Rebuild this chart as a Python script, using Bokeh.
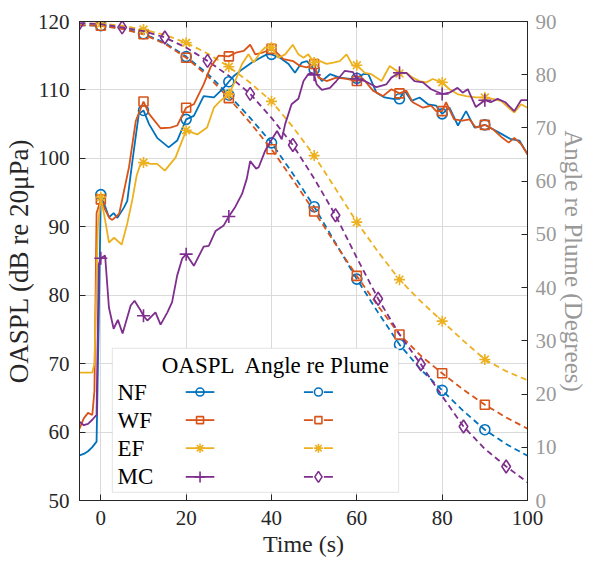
from bokeh.plotting import figure
from bokeh.models import Range1d, LinearAxis, FixedTicker, Label, BoxAnnotation
from bokeh.embed import file_html
from bokeh.resources import INLINE

# ---------------- data ----------------
series_names = ["NF", "WF", "EF", "MC"]

t_nf = [-5, -4, -3, -2, -1, -0.5, 0, 1, 1.9, 3, 3.9, 5.4, 6.2, 7.4, 8.9, 10, 11.3, 13.2, 15.9, 17.9,
        20, 21.8, 24.1, 26.5, 28.8, 30, 31.1, 33.1, 35.4, 37.4, 38.9, 40, 42, 44, 45.5, 47.1, 48.3, 50,
        51.8, 53.7, 56, 58.4, 60, 61.5, 62.7, 64.6, 66.5, 68.5, 70, 71.2, 72.8, 74.7, 76.7, 78.6,
        80, 81.7, 83.7, 85.6, 87.6, 90, 91.8, 94.1, 96.1, 98.1, 100]
oaspl_nf = [56.6, 56.8, 57.2, 57.8, 58.6, 76.0, 94.7, 93.0, 91.4, 92.0, 91.3, 92.8, 93.8, 99.6, 106.5, 107.0,
            105.0, 103.0, 101.6, 102.6, 105.7, 106.2, 109.1, 108.9, 110.3, 111.2, 112.0, 113.0, 114.0,
            114.7, 115.2, 115.2, 114.7, 113.8, 112.5, 114.0, 114.2, 113.0, 111.3, 112.3, 111.8, 111.6,
            111.7, 112.3, 112.3, 109.6, 108.9, 108.7, 108.7, 109.9, 108.4, 108.9, 107.9, 107.7, 106.5,
            107.4, 104.8, 106.9, 104.5, 104.9, 104.3, 103.5, 102.8, 102.6, 100.6]

t_wf = [-5, -4, -3, -2, -1.5, -1, 0, 1, 2, 2.7, 4.3, 6.6, 8.2, 10, 11.3, 14, 16.3, 17.9, 20, 21.8,
        24.1, 25.7, 27.6, 30, 31.9, 33.5, 35, 36.2, 38.1, 40, 40.8, 42.8, 45.1, 46.7, 48.3, 50, 51,
        52.9, 55.2, 57.6, 60, 61.5, 63.8, 66.1, 68.1, 70, 71.6, 73.1, 75.5, 77.4, 78.6, 80, 80.9,
        82.8, 84.8, 86.4, 87.9, 90, 91.8, 94.1, 95.6, 96.9, 98.5, 100]
oaspl_wf = [60.5, 62.0, 62.8, 62.5, 66.0, 92.0, 94.0, 92.5, 91.3, 91.0, 91.9, 98.7, 105.5, 108.3, 106.5,
            104.4, 104.5, 104.8, 107.4, 107.9, 110.8, 113.3, 115.0, 114.9, 115.5, 115.7, 116.6, 115.2,
            115.5, 116.0, 115.7, 114.5, 114.2, 113.5, 113.3, 113.8, 111.8, 111.3, 111.8, 111.6, 111.3,
            111.6, 109.9, 109.1, 110.1, 109.5, 109.9, 108.2, 107.4, 107.7, 106.9, 106.9, 108.2, 105.7,
            105.5, 105.7, 104.5, 104.9, 104.3, 103.0, 102.3, 103.0, 102.1, 100.6]

t_ef = [-5, -4, -3, -2, -1.5, -0.7, 0, 1, 1.9, 3.1, 4.9, 6.2, 7.4, 8.4, 9.3, 10, 11.7, 13.2, 15, 17.5,
        20, 22.6, 24.9, 26.5, 28, 30, 31.5, 33.1, 34.6, 35.8, 37.4, 38.5, 40, 41.6, 43.2, 45, 46.3,
        47.5, 48.6, 50, 51.4, 52.9, 54.5, 56, 57.6, 59.1, 60, 61.9, 63.4, 65.8, 67.7, 69.3, 70, 71.6,
        73.1, 74.7, 76.3, 77.8, 80, 81.7, 83.6, 85.6, 87.9, 90, 91.8, 93.8, 95.6, 96.9, 98.5, 100]
oaspl_ef = [68.7, 68.7, 68.7, 68.7, 70.0, 90.0, 94.3, 91.0, 87.7, 88.4, 87.4, 90.5, 94.0, 97.5, 99.2, 99.4,
            99.2, 99.2, 98.2, 100.1, 104.1, 103.5, 104.5, 107.4, 108.4, 109.4, 111.3, 113.8, 115.2,
            114.0, 115.5, 116.2, 116.2, 114.7, 115.2, 116.6, 115.2, 114.7, 115.2, 114.0, 114.2, 113.8,
            114.0, 114.2, 115.2, 113.5, 113.6, 112.5, 112.3, 111.3, 113.5, 112.8, 112.4, 112.5, 111.8,
            111.3, 111.1, 111.6, 111.1, 110.1, 109.4, 109.1, 108.9, 108.9, 108.7, 108.4, 107.4, 106.7,
            107.9, 107.4]

t_mc = [-5, -4, -3, -2, -1, -0.5, 0, 1, 1.9, 3, 4, 5.1, 7, 7.9, 9.3, 10, 10.9, 12.8, 14, 15.6, 16.7,
        17.9, 19.1, 20, 21.8, 24.1, 25.3, 26.9, 28.8, 30, 31.5, 33.1, 34.2, 35, 36.4, 37, 38.5, 39.9,
        41.3, 42.4, 43.2, 44.7, 46.3, 47.5, 48.6, 49.4, 50, 50.6, 51.8, 53.7, 55.2, 57.2, 59.1, 60,
        61.9, 64.6, 66.9, 68.1, 70, 71.6, 73.5, 75.5, 77.4, 80, 81.7, 83.6, 84.8, 86, 87.9, 90, 91.4,
        93, 94.8, 96.9, 98.5, 100]
oaspl_mc = [61.5, 61.0, 61.2, 61.8, 62.5, 84.5, 85.4, 85.8, 78.2, 75.1, 76.4, 74.4, 78.5, 79.2, 77.8, 77.0,
            76.3, 77.5, 75.7, 77.5, 79.0, 82.9, 85.4, 86.0, 84.3, 87.1, 87.2, 89.4, 90.2, 91.5, 92.9,
            94.8, 97.0, 99.6, 98.5, 98.7, 101.1, 102.6, 104.0, 102.8, 105.0, 107.9, 108.7, 111.3, 112.3,
            112.5, 112.2, 110.8, 110.0, 110.3, 111.3, 112.8, 112.6, 111.6, 111.3, 110.4, 110.8, 111.8,
            112.5, 112.5, 111.3, 111.1, 110.1, 109.4, 109.6, 110.3, 109.6, 110.1, 107.5, 108.5, 108.2,
            108.7, 108.2, 106.9, 108.5, 108.5]

t_angle = [-5, 0, 5, 10, 15, 20, 25, 30, 35, 40, 45, 50, 55, 60, 65, 70, 75, 80, 85, 90, 95, 100]
angle_nf = [89.3, 89.2, 88.7, 87.7, 86.0, 83.4, 80.2, 76.2, 71.9, 67.2, 61.4, 55.2, 48.4, 41.6, 35.3,
            29.3, 24.6, 20.7, 16.8, 13.3, 10.6, 8.4]
angle_wf = [89.3, 89.2, 88.6, 87.6, 85.8, 83.2, 79.8, 75.6, 71.0, 66.0, 60.3, 54.3, 48.2, 42.2, 36.5,
            31.2, 27.2, 23.9, 20.8, 18.0, 15.6, 13.5]
angle_ef = [89.6, 89.6, 89.2, 88.5, 87.5, 86.0, 84.0, 81.5, 78.5, 75.0, 70.2, 64.8, 58.6, 52.3, 46.7,
            41.5, 37.4, 33.7, 30.0, 26.5, 24.3, 22.6]
angle_mc = [89.7, 89.5, 88.9, 88.2, 87.0, 85.1, 82.6, 79.8, 76.4, 71.9, 66.8, 60.5, 53.6, 45.6, 37.9,
            31.2, 25.6, 19.6, 13.9, 9.7, 6.4, 3.4]

marker_times = [0, 10, 20, 30, 40, 50, 60, 70, 80, 90]
marker_times_mc_angle = [-5, 5, 15, 25, 35, 45, 55, 65, 75, 85, 95]

x_ticks = [0, 20, 40, 60, 80, 100]
y_ticks = [50, 60, 70, 80, 90, 100, 110, 120]
y2_ticks = [0, 10, 20, 30, 40, 50, 60, 70, 80, 90]

# ---------------- styles ----------------
FONT = "Liberation Serif"
COLORS = {"NF": "#0072BD", "WF": "#D95319", "EF": "#EDB120", "MC": "#7E2F8E"}
MARKERS_SOLID = {"NF": "circle", "WF": "square", "EF": "asterisk", "MC": "cross"}
MARKERS_DASH = {"NF": "circle", "WF": "square", "EF": "asterisk", "MC": "diamond"}
MSIZE = {"circle": 10, "square": 9, "asterisk": 11, "cross": 13, "diamond": 13}
DASH = "6 4"
LW = 1.8

p = figure(width=589, height=563, x_range=Range1d(-5, 100), y_range=Range1d(50, 120),
           output_backend="svg", toolbar_location=None,
           min_border_left=78, min_border_right=61, min_border_top=21, min_border_bottom=63)
p.extra_y_ranges = {"ang": Range1d(0, 90)}
p.background_fill_color = "white"
p.border_fill_color = "white"
p.outline_line_color = "#262626"
p.outline_line_width = 1

# grid
p.xgrid.ticker = FixedTicker(ticks=x_ticks)
p.ygrid.ticker = FixedTicker(ticks=y_ticks)
for g in (p.xgrid, p.ygrid):
    g.grid_line_color = "#dadada"
    g.grid_line_width = 1

def style_axis(ax, color_labels="#262626", line_color="#262626", label_size="24px"):
    ax.major_tick_in = 6
    ax.major_tick_out = 0
    ax.minor_tick_line_color = None
    ax.axis_line_color = line_color
    ax.major_tick_line_color = line_color
    ax.major_label_text_font = FONT
    ax.major_label_text_font_size = "21px"
    ax.major_label_text_color = color_labels
    ax.axis_label_text_font = FONT
    ax.axis_label_text_font_size = label_size
    ax.axis_label_text_font_style = "normal"
    ax.axis_label_text_color = color_labels

p.xaxis.ticker = FixedTicker(ticks=x_ticks)
p.yaxis.ticker = FixedTicker(ticks=y_ticks)
p.xaxis.axis_label = "Time (s)"
p.yaxis.axis_label = "OASPL (dB re 20\u03bcPa)"
style_axis(p.xaxis[0])
style_axis(p.yaxis[0], label_size="27px")
p.xaxis.major_label_standoff = 10
p.yaxis.major_label_standoff = 10
p.xaxis.axis_label_standoff = 3
p.yaxis.axis_label_standoff = 1

right = LinearAxis(y_range_name="ang", ticker=FixedTicker(ticks=y2_ticks),
                   axis_label="Angle re Plume (Degrees)")
style_axis(right, color_labels="#999999", label_size="25px")
right.major_label_standoff = 8
right.axis_label_standoff = 0
p.add_layout(right, "right")

top = LinearAxis(ticker=FixedTicker(ticks=x_ticks))
style_axis(top)
top.major_label_overrides = {t: "" for t in x_ticks}
top.major_label_standoff = 0
p.add_layout(top, "above")

# data lines
solid = {"NF": (t_nf, oaspl_nf), "WF": (t_wf, oaspl_wf), "EF": (t_ef, oaspl_ef), "MC": (t_mc, oaspl_mc)}
angles = {"NF": angle_nf, "WF": angle_wf, "EF": angle_ef, "MC": angle_mc}

for name in series_names:
    c = COLORS[name]
    ta = t_angle
    ya = angles[name]
    p.line(ta, ya, y_range_name="ang", line_color=c, line_width=LW, line_dash=DASH)
    mt = marker_times_mc_angle if name == "MC" else marker_times
    mx = [t for t in ta if t in mt]
    my = [y for t, y in zip(ta, ya) if t in mt]
    mk = MARKERS_DASH[name]
    p.scatter(mx, my, y_range_name="ang", marker=mk, size=MSIZE[mk], line_color=c,
              fill_color=c if mk == "asterisk" else None, line_width=1.6)

for name in series_names:
    c = COLORS[name]
    ts, ys = solid[name]
    p.line(ts, ys, line_color=c, line_width=LW)
    mx = [t for t in ts if t in marker_times]
    my = [y for t, y in zip(ts, ys) if t in marker_times]
    mk = MARKERS_SOLID[name]
    p.scatter(mx, my, marker=mk, size=MSIZE[mk], line_color=c,
              fill_color=c if mk == "asterisk" else None, line_width=1.6)

# ---------------- legend (drawn manually, data-space layout) ----------------
LEG = dict(left=2.7, right=69.8, top=72.25, bottom=51.2, header_y=69.7,
           hdr1_x=22.8, hdr2_x=50.6, label_x=3.9, rows=[65.85, 61.75, 57.65, 53.45],
           s1=(19.9, 26.6), s2=(47.6, 54.4))
box = BoxAnnotation(left=LEG["left"], right=LEG["right"], top=LEG["top"], bottom=LEG["bottom"],
                    fill_color="white", fill_alpha=1.0, line_color="#a6a6a6", line_width=1)
p.add_layout(box)
p.add_layout(Label(x=LEG["hdr1_x"], y=LEG["header_y"], text="OASPL", text_align="center",
                   text_baseline="middle", text_font=FONT, text_font_size="23px", text_color="black"))
p.add_layout(Label(x=LEG["hdr2_x"], y=LEG["header_y"], text="Angle re Plume", text_align="center",
                   text_baseline="middle", text_font=FONT, text_font_size="23px", text_color="black"))
for name, ry in zip(series_names, LEG["rows"]):
    c = COLORS[name]
    p.add_layout(Label(x=LEG["label_x"], y=ry, text=name, text_align="left", text_baseline="middle",
                       text_font=FONT, text_font_size="23px", text_color="black"))
    x0, x1 = LEG["s1"]
    r = p.line([x0, x1], [ry, ry], line_color=c, line_width=LW)
    r.level = "overlay"
    mk = MARKERS_SOLID[name]
    r = p.scatter([(x0 + x1) / 2], [ry], marker=mk, size=MSIZE[mk] - 2, line_color=c,
                  fill_color=c if mk == "asterisk" else None, line_width=1.6)
    r.level = "overlay"
    x0, x1 = LEG["s2"]
    r = p.line([x0, x1], [ry, ry], line_color=c, line_width=LW, line_dash="9 11")
    r.level = "overlay"
    mk = MARKERS_DASH[name]
    r = p.scatter([(x0 + x1) / 2], [ry], marker=mk, size=MSIZE[mk] - 2, line_color=c,
                  fill_color=c if mk == "asterisk" else None, line_width=1.6)
    r.level = "overlay"

open("out.html", "w").write(file_html(p, INLINE))
